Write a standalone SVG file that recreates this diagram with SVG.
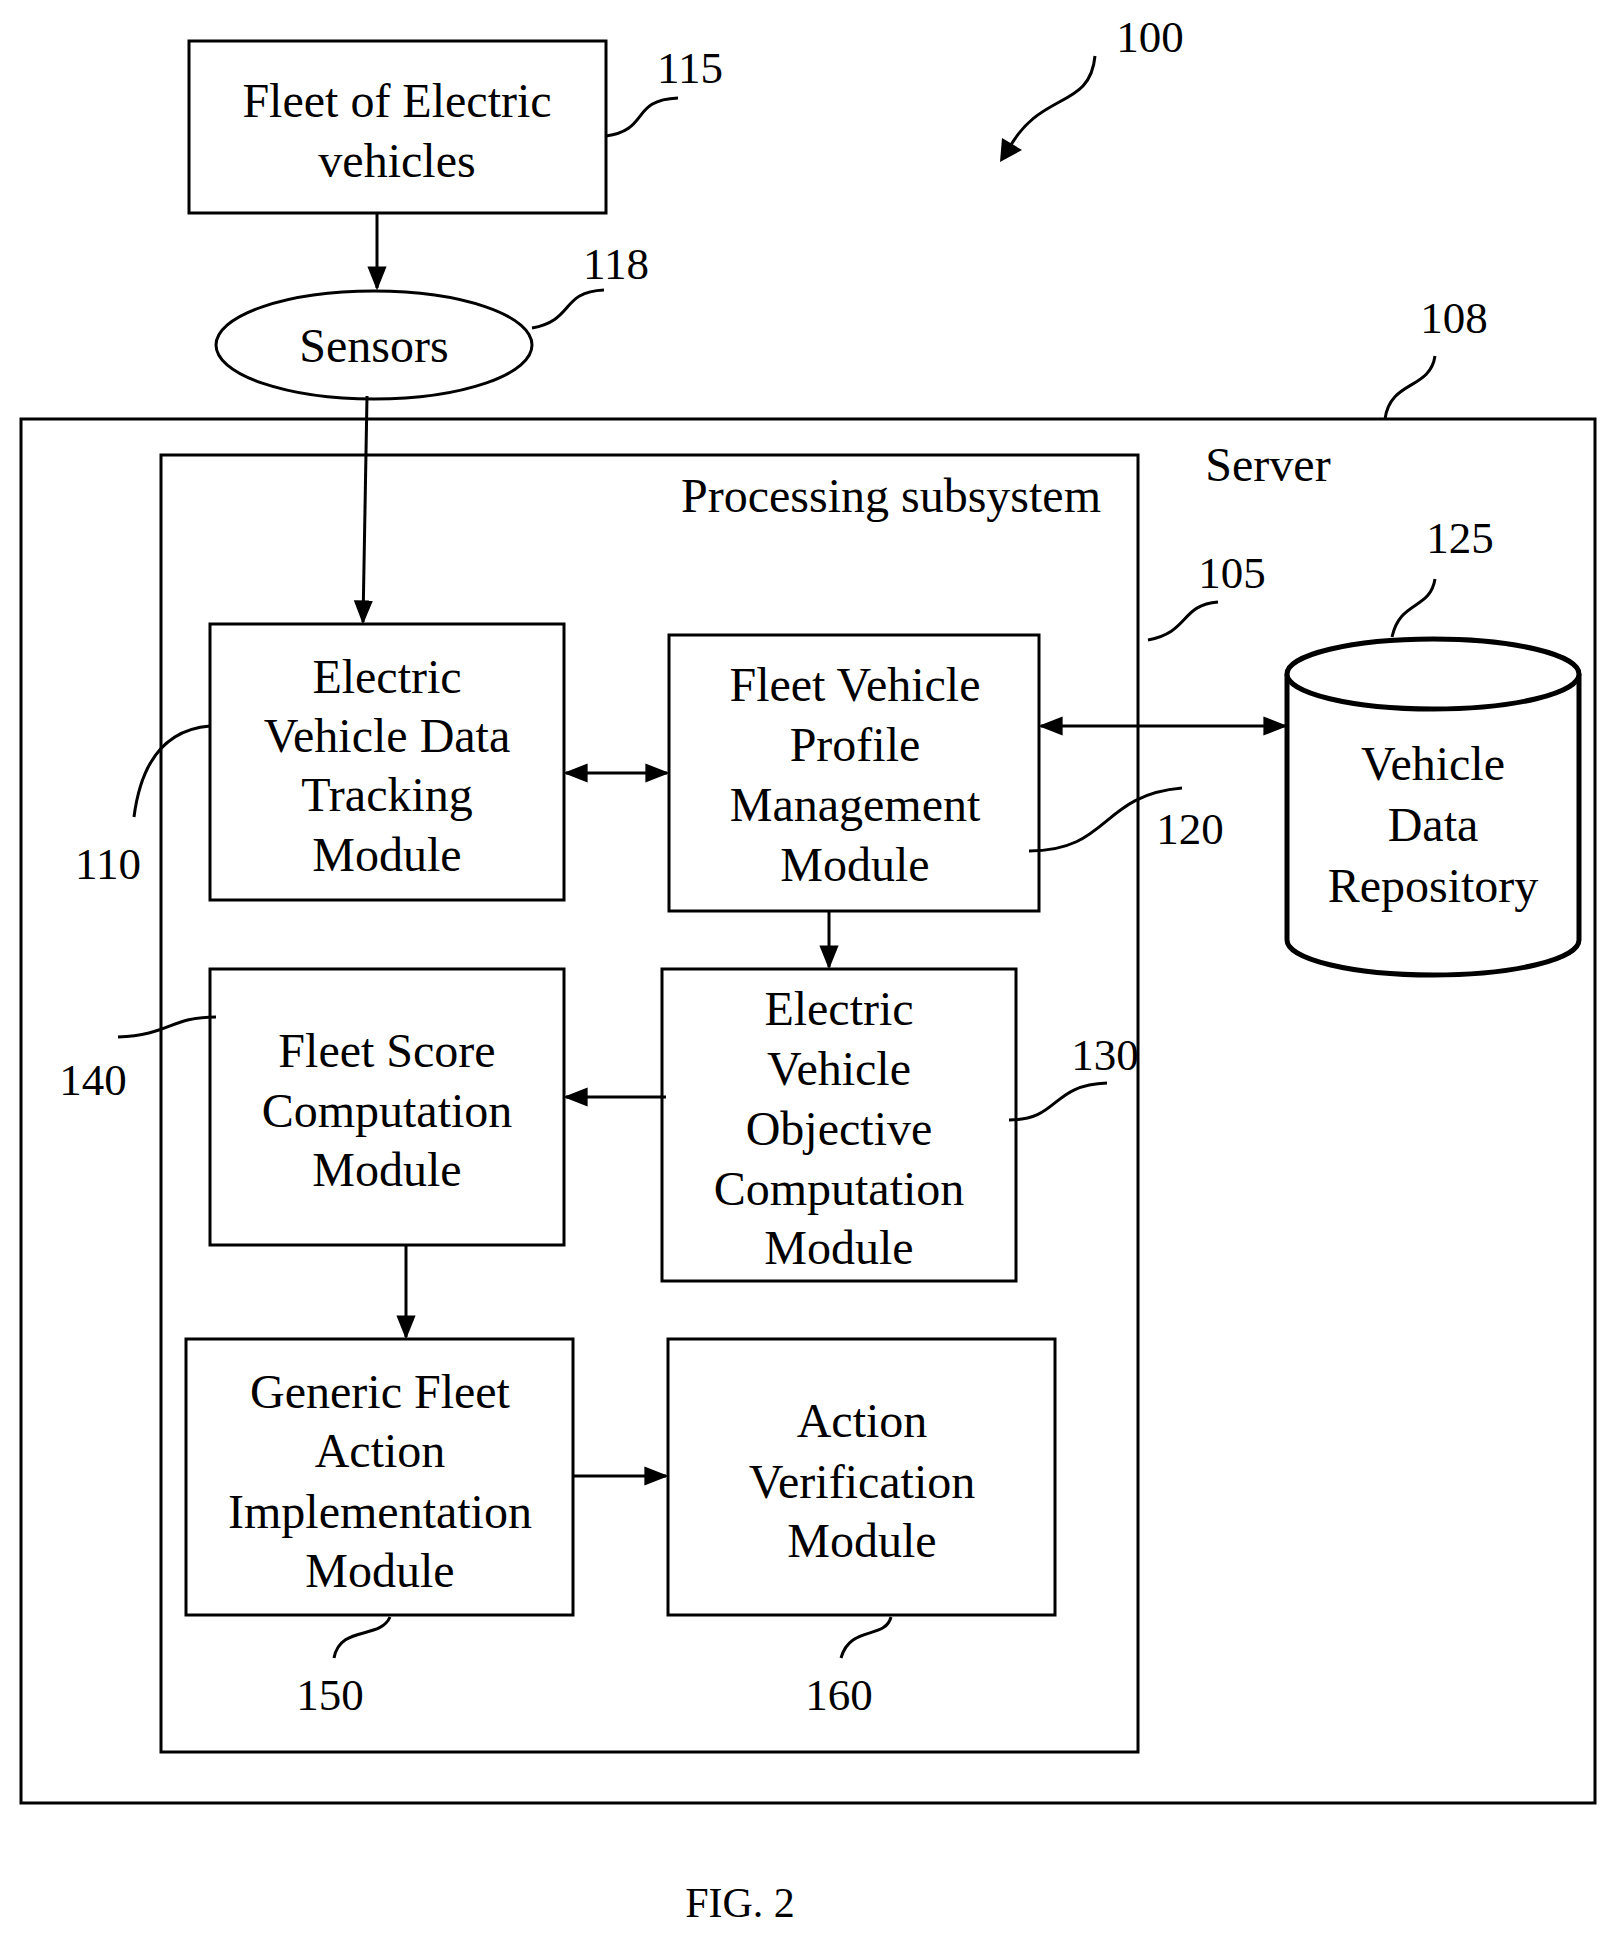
<svg xmlns="http://www.w3.org/2000/svg" width="1616" height="1939" viewBox="0 0 1616 1939">
<defs>
<marker id="a" viewBox="0 0 10 10" refX="9" refY="5" markerWidth="24" markerHeight="24" markerUnits="userSpaceOnUse" orient="auto-start-reverse"><path d="M0,1 L10,5 L0,9 z" fill="#000"/></marker>
</defs>
<style>
text{font-family:"Liberation Serif",serif;font-size:48px;fill:#000;text-anchor:middle;dominant-baseline:central}
.n{font-size:45px}
.b{fill:#fff;stroke:#000;stroke-width:3}
.l{fill:none;stroke:#000;stroke-width:3}
</style>
<rect width="1616" height="1939" fill="#fff"/>
<g id="server"><rect class="b" x="21" y="419" width="1574" height="1384"/><text x="1268" y="464">Server</text></g>
<g id="processing"><rect class="b" x="161" y="455" width="977" height="1297"/><text x="891" y="495">Processing subsystem</text></g>
<g id="fleet"><rect class="b" x="189" y="41" width="417" height="172"/><text x="397" y="100">Fleet of Electric</text><text x="397" y="160">vehicles</text></g>
<g id="sensors"><ellipse class="b" cx="374" cy="345" rx="158" ry="54"/><text x="374" y="345">Sensors</text></g>
<g id="n110"><rect class="b" x="210" y="624" width="354" height="276"/><text x="387" y="676">Electric</text><text x="387" y="735">Vehicle Data</text><text x="387" y="794">Tracking</text><text x="387" y="854">Module</text></g>
<g id="n120"><rect class="b" x="669" y="635" width="370" height="276"/><text x="855" y="684">Fleet Vehicle</text><text x="855" y="744">Profile</text><text x="855" y="804">Management</text><text x="855" y="864">Module</text></g>
<g id="n125"><path d="M1287,674 V940 A146,35 0 0 0 1579,940 V674" fill="#fff" stroke="#000" stroke-width="5"/><ellipse cx="1433" cy="674" rx="146" ry="35" fill="#fff" stroke="#000" stroke-width="5"/><text x="1433" y="763">Vehicle</text><text x="1433" y="824">Data</text><text x="1433" y="885">Repository</text></g>
<g id="n130"><rect class="b" x="662" y="969" width="354" height="312"/><text x="839" y="1008">Electric</text><text x="839" y="1068">Vehicle</text><text x="839" y="1128">Objective</text><text x="839" y="1188">Computation</text><text x="839" y="1247">Module</text></g>
<g id="n140"><rect class="b" x="210" y="969" width="354" height="276"/><text x="387" y="1050">Fleet Score</text><text x="387" y="1110">Computation</text><text x="387" y="1169">Module</text></g>
<g id="n150"><rect class="b" x="186" y="1339" width="387" height="276"/><text x="380" y="1391">Generic Fleet</text><text x="380" y="1450">Action</text><text x="380" y="1511">Implementation</text><text x="380" y="1570">Module</text></g>
<g id="n160"><rect class="b" x="668" y="1339" width="387" height="276"/><text x="862" y="1420">Action</text><text x="862" y="1481">Verification</text><text x="862" y="1540">Module</text></g>
<g id="connectors">
<path class="l" d="M377,213 V288" marker-end="url(#a)"/>
<path class="l" d="M367,396 L363,622" marker-end="url(#a)"/>
<path class="l" d="M566,773 H667" marker-start="url(#a)" marker-end="url(#a)"/>
<path class="l" d="M1041,726 H1285" marker-start="url(#a)" marker-end="url(#a)"/>
<path class="l" d="M829,911 V967" marker-end="url(#a)"/>
<path class="l" d="M666,1097 H566" marker-end="url(#a)"/>
<path class="l" d="M406,1245 V1337" marker-end="url(#a)"/>
<path class="l" d="M573,1476 H666" marker-end="url(#a)"/>
</g>
<g id="labels">
<path class="l" d="M1095,56 C1090,110 1040,90 1008,150"/><path d="M1000,162 L1002,138 L1022,150 z"/>
<text class="n" x="1150" y="37">100</text>
<path class="l" d="M606,136 C650,130 630,100 678,98"/><text class="n" x="690" y="68">115</text>
<path class="l" d="M532,328 C575,320 560,292 604,290"/><text class="n" x="616" y="264">118</text>
<path class="l" d="M1385,419 C1390,380 1430,390 1435,356"/><text class="n" x="1454" y="318">108</text>
<path class="l" d="M1148,640 C1190,632 1180,605 1218,602"/><text class="n" x="1232" y="573">105</text>
<path class="l" d="M1392,637 C1400,600 1430,610 1435,579"/><text class="n" x="1460" y="538">125</text>
<path class="l" d="M210,726 C160,730 140,770 134,817"/><text class="n" x="108" y="864">110</text>
<path class="l" d="M1029,851 C1110,851 1100,795 1182,788"/><text class="n" x="1190" y="829">120</text>
<path class="l" d="M1009,1120 C1060,1120 1050,1085 1107,1083"/><text class="n" x="1105" y="1055">130</text>
<path class="l" d="M118,1037 C170,1035 170,1017 216,1017"/><text class="n" x="93" y="1080">140</text>
<path class="l" d="M334,1658 C340,1625 380,1640 390,1617"/><text class="n" x="330" y="1695">150</text>
<path class="l" d="M841,1658 C850,1625 885,1640 891,1617"/><text class="n" x="839" y="1695">160</text>
<text x="740" y="1903" style="font-size:42px">FIG. 2</text>
</g>
</svg>
